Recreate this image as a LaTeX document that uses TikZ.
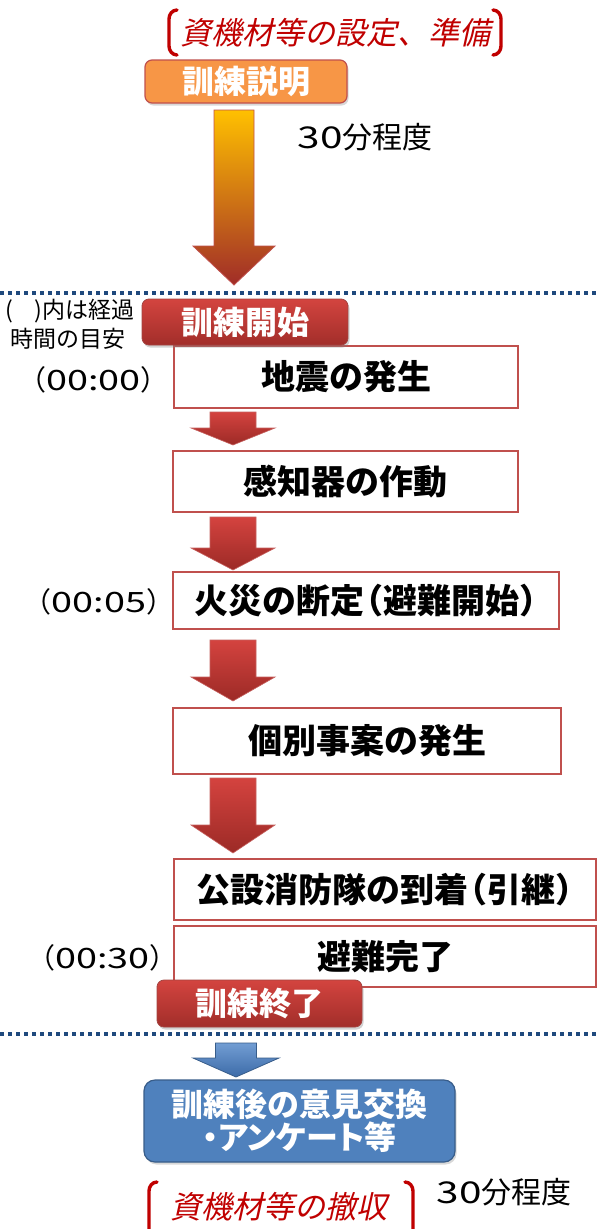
\documentclass[tikz,border=0pt]{standalone}
\usepackage{fontspec}
\setmainfont{Noto Sans CJK JP}
\newfontfamily\jpit{Noto Sans CJK JP}[FakeSlant=0.22]
\usetikzlibrary{shadows}
\definecolor{boxred}{HTML}{C0504D}
\definecolor{btntop}{HTML}{D3443F}
\definecolor{btnbot}{HTML}{A22E2A}
\definecolor{orangefill}{HTML}{F79646}
\definecolor{titlered}{HTML}{C00000}
\definecolor{dotblue}{HTML}{1F497D}
\definecolor{bluefill}{HTML}{4F81BD}
\definecolor{blueline}{HTML}{385D8A}
\definecolor{bluetop}{HTML}{729DD3}
\definecolor{bluebot}{HTML}{3C6BA8}
\definecolor{arrtop}{HTML}{FFC000}
\definecolor{arrmid}{HTML}{F08A40}
\definecolor{arrbot}{HTML}{A02C28}
\definecolor{redtop}{HTML}{D4433F}
\definecolor{redbot}{HTML}{9C2A26}
\newcommand\blockarrow[7]{\shade[#1] ({#2-#3},#5) -- ({#2+#3},#5) -- ({#2+#3},#6) -- ({#2+#4},#6) -- (#2,#7) -- ({#2-#4},#6) -- ({#2-#3},#6) -- cycle;}
\newcommand\lpar{\makebox[0.55em][r]{（}}
\newcommand\rpar{\makebox[0.55em][l]{）}}
\newcommand\tstamp[1]{（\scalebox{1.35}[1]{#1}）}
\newcommand\wdigits[1]{\scalebox{1.35}[1]{#1}}
\tikzset{
  flowbox/.style={draw=boxred, line width=1.6pt, fill=white, inner sep=0pt,
    font=\fontsize{34}{38}\selectfont\bfseries, text=black},
  btnbox/.style={draw=boxred!85!black, line width=0.8pt, rounded corners=7pt, inner sep=0pt,
    top color=btntop, bottom color=btnbot, text=white,
    font=\fontsize{32}{36}\selectfont\bfseries,
    drop shadow={opacity=0.35, shadow xshift=1.5pt, shadow yshift=-2.5pt}},
  orangebox/.style={draw=boxred, line width=1.2pt, rounded corners=7pt, inner sep=0pt,
    fill=orangefill, text=white, font=\fontsize{32}{36}\selectfont\bfseries,
    drop shadow={opacity=0.3, shadow xshift=1.5pt, shadow yshift=-2.5pt}},
  bluebox/.style={draw=blueline, line width=1.2pt, rounded corners=11pt, inner sep=0pt,
    fill=bluefill, text=white, align=center,
    font=\fontsize{32}{33}\selectfont\bfseries,
    drop shadow={opacity=0.3, shadow xshift=1.5pt, shadow yshift=-2.5pt}},
  redarrow/.style={top color=redtop, bottom color=redbot, draw=boxred!90, line width=0.6pt},
  bigarrow/.style={top color=arrtop, middle color=arrmid, bottom color=arrbot, draw=boxred, line width=0.8pt},
  bluearrow/.style={top color=bluetop, bottom color=bluebot, draw=blueline, line width=0.8pt},
  plain/.style={text=black, inner sep=0pt},
  stamp/.style={text=black, inner sep=0pt, font=\fontsize{28}{32}\selectfont},
  title/.style={text=titlered, inner sep=0pt, font=\jpit\fontsize{31}{34}\selectfont},
  bracket/.style={draw=titlered, line width=3.4pt, line cap=round},
  dotline/.style={draw=dotblue, line width=3.5pt, dash pattern=on 4pt off 4pt}
}
\begin{document}
\begin{tikzpicture}[x=1pt, y=-1pt]
\useasboundingbox[fill=white] (0,0) rectangle (597,1229);

% top title
\node[title] (top) at (335,33) {資機材等の設定、準備};
\draw[bracket] (177,10) to[out=180,in=90] (169,19) -- (169,46) to[out=-90,in=180] (177,55);
\draw[bracket] (493,10) to[out=0,in=90] (501,19) -- (501,46) to[out=-90,in=0] (493,55);

\node[orangebox, minimum width=202pt, minimum height=43pt] (expl) at (246,81.5) {訓練説明};
\blockarrow{bigarrow}{234}{20}{41}{110}{246}{285}
\node[plain, font=\fontsize{30}{34}\selectfont] (t1) at (365,137) {\wdigits{30}分程度};

% dotted separator
\coordinate (dl1) at (0,293);
\coordinate (dr1) at (597,293);
\draw[dotline] (dl1) -- (dr1);

\node[plain, font=\fontsize{23}{26}\selectfont] (note1) at (70,311) {(\hspace{22pt})内は経過};
\node[plain, font=\fontsize{23}{26}\selectfont] (note2) at (68,339) {時間の目安};

% flow boxes
\node[flowbox, minimum width=344pt, minimum height=62pt] (n1) at (346,377) {地震の発生};
\node[btnbox, minimum width=206pt, minimum height=46pt] (start) at (245,322) {訓練開始};
\node[stamp] (tm0) at (93.5,380) {\tstamp{00:00}};

\blockarrow{redarrow}{233}{23}{42}{412}{428}{445}
\node[flowbox, minimum width=345pt, minimum height=61pt] (n2) at (345.5,481.5) {感知器の作動};

\blockarrow{redarrow}{233}{23}{42}{517}{548}{570}
\node[flowbox, minimum width=386pt, minimum height=57pt] (n3) at (366,600.5) {火災の断定\lpar 避難開始\rpar};
\node[stamp] (tm5) at (99,602) {\tstamp{00:05}};

\blockarrow{redarrow}{233}{23}{42}{640}{677}{701}
\node[flowbox, minimum width=388pt, minimum height=66pt] (n4) at (367,741) {個別事案の発生};

\blockarrow{redarrow}{233}{23}{42}{778}{825}{853}
\node[flowbox, minimum width=422pt, minimum height=61pt] (n5) at (385,889.5) {公設消防隊の到着\lpar 引継\rpar};
\node[flowbox, minimum width=422pt, minimum height=61pt] (n6) at (385,956.5) {避難完了};
\node[stamp] (tm30) at (102.5,958) {\tstamp{00:30}};
\node[btnbox, minimum width=205pt, minimum height=47pt] (end) at (259.5,1003.5) {訓練終了};

\coordinate (dl2) at (0,1034);
\coordinate (dr2) at (597,1034);
\draw[dotline] (dl2) -- (dr2);

\blockarrow{bluearrow}{236}{20.5}{43}{1043}{1058}{1077}
\node[bluebox, minimum width=311pt, minimum height=82pt] (after) at (299.5,1121) {訓練後の意見交換\\{\addfontfeature{RawFeature=+palt}・アンケート等}};

% bottom title
\node[title] (bot) at (279,1207) {資機材等の撤収};
\draw[bracket] (157,1182) to[out=180,in=90] (149,1191) -- (149,1232);
\draw[bracket] (405,1182) to[out=0,in=90] (413,1191) -- (413,1232);
\node[plain, font=\fontsize{30}{34}\selectfont] (t2) at (504,1192) {\wdigits{30}分程度};
\end{tikzpicture}
\end{document}
